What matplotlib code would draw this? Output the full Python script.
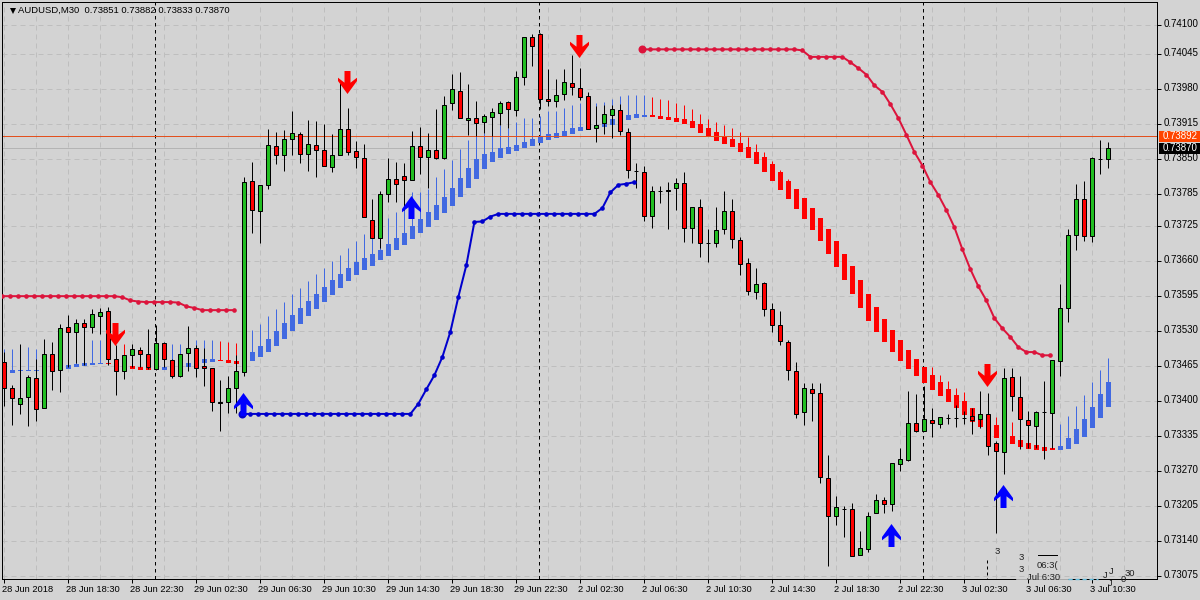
import numpy as np
import matplotlib
matplotlib.use('Agg')
import matplotlib.pyplot as plt
from matplotlib.patches import Rectangle
from matplotlib.path import Path
from matplotlib.transforms import ScaledTranslation

# all prices in points (1e-5)
body_top = [73472, 73424, 73405, 73444, 73442, 73488, 73487, 73535, 73537, 73545,
            73545, 73561, 73565, 73567, 73478, 73485, 73496, 73494, 73487, 73507,
            73507, 73476, 73487, 73498, 73498, 73465, 73461, 73399, 73424, 73455,
            73808, 73809, 73801, 73876, 73874, 73887, 73898, 73896, 73878, 73876,
            73866, 73857, 73906, 73906, 73865, 73852, 73736, 73785, 73812, 73812,
            73818, 73874, 73874, 73866, 73866, 73950, 73980, 73976, 73926, 73926,
            73930, 73937, 73954, 73956, 74002, 74077, 74077, 74082, 73961, 73969,
            73993, 73991, 73982, 73967, 73913, 73933, 73943, 73941, 73900, 73827,
            73825, 73790, 73790, 73793, 73805, 73805, 73760, 73760, 73693, 73718,
            73753, 73753, 73699, 73656, 73617, 73619, 73571, 73541, 73509, 73455,
            73424, 73422, 73414, 73256, 73202, 73199, 73199, 73126, 73187, 73215,
            73215, 73284, 73292, 73359, 73360, 73366, 73364, 73370, 73369, 73369,
            73369, 73372, 73375, 73375, 73322, 73442, 73444, 73407, 73364, 73379,
            73380, 73476, 73573, 73708, 73775, 73775, 73852, 73850, 73870]
body_bot = [73424, 73405, 73395, 73407, 73385, 73387, 73455, 73458, 73528, 73529,
            73538, 73538, 73559, 73478, 73455, 73455, 73485, 73487, 73464, 73459,
            73478, 73446, 73447, 73489, 73461, 73461, 73399, 73397, 73399, 73424,
            73454, 73755, 73753, 73801, 73857, 73857, 73887, 73859, 73859, 73866,
            73837, 73835, 73857, 73863, 73853, 73742, 73703, 73703, 73785, 73803,
            73811, 73811, 73853, 73853, 73852, 73852, 73954, 73926, 73922, 73917,
            73919, 73928, 73935, 73943, 73941, 74002, 74060, 73961, 73958, 73958,
            73971, 73984, 73965, 73906, 73907, 73917, 73932, 73902, 73829, 73827,
            73744, 73744, 73790, 73791, 73796, 73721, 73721, 73693, 73693, 73693,
            73719, 73701, 73654, 73604, 73602, 73571, 73541, 73511, 73457, 73375,
            73379, 73414, 73258, 73187, 73187, 73199, 73111, 73113, 73124, 73191,
            73208, 73208, 73282, 73290, 73344, 73344, 73359, 73357, 73369, 73369,
            73369, 73364, 73366, 73316, 73307, 73305, 73409, 73366, 73355, 73353,
            73380, 73377, 73475, 73573, 73708, 73706, 73706, 73850, 73851]
highs = [73492, 73430, 73506, 73448, 73478, 73515, 73510, 73543, 73560, 73552,
         73552, 73571, 73573, 73574, 73504, 73486, 73506, 73501, 73534, 73541,
         73510, 73478, 73488, 73540, 73504, 73499, 73461, 73439, 73447, 73486,
         73817, 73844, 73801, 73906, 73900, 73904, 73940, 73900, 73922, 73920,
         73915, 73896, 73995, 73945, 73883, 73878, 73775, 73790, 73852, 73844,
         73842, 73902, 73909, 73898, 73943, 73967, 74008, 74012, 73989, 73958,
         73933, 73945, 73958, 73958, 74014, 74077, 74082, 74084, 74017, 73998,
         74017, 74043, 74019, 73974, 73948, 73951, 73951, 73953, 73907, 73842,
         73837, 73799, 73799, 73807, 73814, 73825, 73760, 73775, 73720, 73761,
         73790, 73775, 73705, 73666, 73647, 73621, 73582, 73567, 73513, 73472,
         73433, 73433, 73433, 73299, 73223, 73204, 73210, 73158, 73193, 73227,
         73221, 73284, 73312, 73419, 73413, 73428, 73387, 73370, 73376, 73393,
         73382, 73387, 73419, 73414, 73325, 73461, 73461, 73446, 73381, 73381,
         73437, 73476, 73617, 73719, 73803, 73809, 73853, 73886, 73882]
lows = [73391, 73355, 73376, 73354, 73362, 73387, 73421, 73416, 73463, 73471,
        73467, 73527, 73525, 73467, 73411, 73441, 73463, 73463, 73459, 73458,
        73463, 73442, 73445, 73455, 73445, 73428, 73382, 73345, 73378, 73377,
        73447, 73713, 73693, 73794, 73840, 73827, 73858, 73842, 73827, 73817,
        73837, 73825, 73857, 73857, 73834, 73742, 73703, 73684, 73770, 73770,
        73755, 73811, 73823, 73796, 73850, 73850, 73941, 73926, 73894, 73892,
        73898, 73892, 73913, 73907, 73930, 73988, 74023, 73943, 73949, 73946,
        73959, 73969, 73960, 73906, 73882, 73897, 73890, 73895, 73815, 73797,
        73734, 73722, 73769, 73719, 73755, 73696, 73694, 73668, 73659, 73687,
        73711, 73685, 73634, 73597, 73590, 73558, 73529, 73504, 73439, 73369,
        73355, 73363, 73248, 73094, 73169, 73148, 73111, 73113, 73120, 73191,
        73192, 73195, 73270, 73288, 73342, 73344, 73334, 73350, 73357, 73352,
        73357, 73339, 73349, 73300, 73155, 73264, 73382, 73310, 73312, 73312,
        73293, 73313, 73447, 73547, 73680, 73698, 73695, 73822, 73833]
# R = down candle, G = up candle, D = doji
candle_dir = ("RRGGRGRGRG" "RGGRRGGRRG" "RRGGRRRDGG" "GRGGRGGRGR" "RGGRRRRGGR"
              "RGRGRGGRGR" "GGGRGGRRRG" "GRRRGGGRRD" "RGDDGRGRDG" "GRRRGRRRRR"
              "GRRRGDRGGG" "RGGGRGRGDD" "DRGRRGRRRG" "DGGGGRGDG")

# smoothed heiken ashi style bars behind the candles
ha_top = [73458, 73458, 73458, 73457, 73457, 73458, 73460, 73463, 73467, 73469,
          73471, 73471, 73471, 73471, 73469, 73467, 73465, 73463, 73461, 73463,
          73463, 73467, 73469, 73471, 73476, 73478, 73478, 73476, 73476, 73475,
          73484, 73491, 73502, 73515, 73530, 73545, 73560, 73573, 73586, 73599,
          73612, 73625, 73636, 73647, 73659, 73666, 73674, 73681, 73692, 73703,
          73713, 73726, 73739, 73752, 73765, 73780, 73796, 73815, 73834, 73850,
          73860, 73863, 73871, 73873, 73876, 73882, 73888, 73893, 73897, 73899,
          73902, 73908, 73910, 73912, 73914, 73917, 73925, 73928, 73932, 73934,
          73932, 73932, 73930, 73928, 73927, 73925, 73921, 73915, 73908, 73900,
          73893, 73888, 73880, 73873, 73863, 73854, 73841, 73826, 73809, 73794,
          73778, 73759, 73740, 73720, 73698, 73674, 73651, 73625, 73599, 73575,
          73553, 73532, 73514, 73495, 73478, 73463, 73448, 73435, 73422, 73411,
          73400, 73387, 73376, 73365, 73356, 73346, 73335, 73328, 73322, 73318,
          73315, 73313, 73316, 73331, 73348, 73367, 73389, 73413, 73435]
ha_bot = [73452, 73453, 73456, 73455, 73455, 73454, 73454, 73458, 73460, 73464,
          73466, 73467, 73468, 73468, 73465, 73463, 73460, 73458, 73458, 73458,
          73458, 73461, 73463, 73463, 73469, 73471, 73473, 73475, 73471, 73469,
          73465, 73475, 73482, 73491, 73502, 73515, 73530, 73543, 73558, 73571,
          73584, 73597, 73610, 73623, 73634, 73644, 73651, 73662, 73670, 73681,
          73690, 73701, 73713, 73724, 73737, 73750, 73763, 73780, 73796, 73813,
          73832, 73845, 73852, 73860, 73865, 73871, 73874, 73880, 73886, 73889,
          73893, 73897, 73902, 73904, 73908, 73910, 73914, 73919, 73923, 73927,
          73928, 73928, 73925, 73923, 73919, 73915, 73908, 73899, 73891, 73884,
          73878, 73873, 73863, 73852, 73841, 73826, 73809, 73793, 73776, 73757,
          73739, 73718, 73698, 73674, 73649, 73625, 73599, 73573, 73549, 73529,
          73510, 73491, 73475, 73460, 73447, 73434, 73421, 73409, 73398, 73387,
          73374, 73361, 73352, 73343, 73331, 73326, 73320, 73315, 73311, 73309,
          73307, 73309, 73309, 73311, 73320, 73333, 73350, 73369, 73389]
ha_high = [73497, 73497, 73499, 73501, 73497, 73480, 73476, 73495, 73476, 73496,
           73502, 73514, 73514, 73495, 73502, 73506, 73473, 73476, 73486, 73495,
           73473, 73506, 73506, 73504, 73514, 73514, 73514, 73512, 73510, 73508,
           73517, 73532, 73543, 73558, 73571, 73584, 73599, 73610, 73623, 73636,
           73647, 73660, 73672, 73685, 73698, 73711, 73718, 73727, 73740, 73752,
           73770, 73789, 73789, 73794, 73817, 73832, 73848, 73869, 73886, 73895,
           73899, 73895, 73914, 73908, 73919, 73927, 73927, 73930, 73940, 73940,
           73945, 73951, 73954, 73956, 73954, 73956, 73962, 73967, 73969, 73969,
           73969, 73966, 73962, 73960, 73954, 73951, 73943, 73934, 73925, 73919,
           73914, 73908, 73900, 73891, 73878, 73863, 73846, 73830, 73813, 73794,
           73778, 73759, 73740, 73720, 73698, 73674, 73651, 73625, 73599, 73575,
           73553, 73532, 73514, 73495, 73478, 73463, 73463, 73448, 73437, 73424,
           73417, 73387, 73380, 73387, 73370, 73369, 73361, 73350, 73343, 73330,
           73328, 73333, 73357, 73372, 73391, 73411, 73435, 73458, 73480]
ha_dir = ("BBBBBBBBBB" "BBBRRRRRRB" "BBBBBBBRRR" "BBBBBBBBBB" "BBBBBBBBBB"
          "BBBBBBBBBB" "BBBBBBBBBB" "BBBBBBBBBB" "BRRRRRRRRR" "RRRRRRRRRR"
          "RRRRRRRRRR" "RRRRRRRRRR" "RRRRRRRRRR" "RRBBBBBBB")

# dotted stop lines, each with its first bar
red_start_a = 0
red_line_a = [73595, 73595, 73595, 73595, 73595, 73595, 73595, 73595, 73595, 73595,
              73595, 73595, 73595, 73595, 73595, 73593, 73587, 73585, 73584, 73584,
              73584, 73584, 73583, 73576, 73573, 73569, 73569, 73569, 73569, 73569]
blue_start = 30
blue_line = [73376, 73376, 73376, 73376, 73376, 73376, 73376, 73376, 73376, 73376,
             73376, 73376, 73376, 73376, 73376, 73376, 73376, 73376, 73376, 73376,
             73376, 73376, 73395, 73422, 73448, 73482, 73529, 73594, 73653, 73733,
             73734, 73743, 73748, 73748, 73748, 73748, 73748, 73748, 73748, 73748,
             73748, 73748, 73748, 73748, 73748, 73759, 73788, 73802, 73804, 73807]
red_start_b = 80
red_line_b = [74054, 74054, 74054, 74054, 74054, 74054, 74054, 74054, 74054, 74054,
              74054, 74054, 74054, 74054, 74054, 74054, 74054, 74054, 74054, 74054,
              74052, 74040, 74040, 74040, 74040, 74040, 74030, 74019, 74007, 73987,
              73975, 73952, 73926, 73895, 73863, 73838, 73807, 73783, 73755, 73723,
              73682, 73645, 73613, 73587, 73554, 73535, 73519, 73500, 73491, 73491,
              73485, 73485]

down_bars = [14, 43, 72, 123]
down_prices = [73524, 73994, 74061, 73448]
up_bars = [30, 51, 111, 125]
up_prices = [73395, 73761, 73151, 73224]

price_ticks = ['0.74100', '0.74045', '0.73980', '0.73915', '0.73850', '0.73785',
               '0.73725', '0.73660', '0.73595', '0.73530', '0.73465', '0.73400',
               '0.73335', '0.73270', '0.73205', '0.73140', '0.73075']
time_labels = ['28 Jun 2018', '28 Jun 18:30', '28 Jun 22:30', '29 Jun 02:30', '29 Jun 06:30',
               '29 Jun 10:30', '29 Jun 14:30', '29 Jun 18:30', '29 Jun 22:30', '2 Jul 02:30',
               '2 Jul 06:30', '2 Jul 10:30', '2 Jul 14:30', '2 Jul 18:30', '2 Jul 22:30',
               '3 Jul 02:30', '3 Jul 06:30', '3 Jul 10:30']
day_bars = [19, 67, 115]
ask_price = 0.73892
bid_price = 0.73870

BG = '#D3D3D3'
GRID = '#BEBEBE'
GREEN = '#22BE22'
RED = '#FF0000'
ROYAL = '#4169E1'
CRIMSON = '#DC143C'
NAVY = '#0000CD'
FONT = 'Liberation Sans'
PX = 0.72  # one pixel in points at dpi 100

plt.rcParams['font.family'] = FONT
fig = plt.figure(figsize=(12, 6), dpi=100, facecolor=BG)
ax = fig.add_axes([2 / 1200, 1 - 579 / 600, 1155 / 1200, 577.5 / 600], facecolor=BG)

top = np.array(body_top) / 1e5
bot = np.array(body_bot) / 1e5
hi = np.array(highs) / 1e5
lo = np.array(lows) / 1e5
bars = np.arange(len(top))

# grid, separators and the bid line go under everything
ax.set_xticks(np.arange(0, 139, 8))
ax.set_xticks(np.arange(4, 144, 8), minor=True)
ax.set_yticks([float(t) for t in price_ticks])
ax.set_yticklabels(price_ticks)
ax.yaxis.tick_right()
ax.grid(True, which='both', color=GRID, lw=PX, ls=(0, (5, 4)), zorder=1)
ax.set_axisbelow(True)
for d in day_bars:
    ax.axvline(d - 0.12, color='black', lw=PX, ls=(0, (3.5, 3.5)), zorder=1.2)
ax.axhline(bid_price, color='#B4B4B4', lw=PX, zorder=1.5)

# indicator bars
ha_top_p = np.array(ha_top) / 1e5
ha_bot_p = np.array(ha_bot) / 1e5
ha_hi_p = np.array(ha_high) / 1e5
ha_cols = [ROYAL if c == 'B' else RED for c in ha_dir]
ax.vlines(bars, ha_top_p, ha_hi_p, colors=ha_cols, lw=PX, zorder=2)
ax.bar(bars, ha_top_p - ha_bot_p, bottom=ha_bot_p, width=5 / 8, color=ha_cols, lw=0, zorder=2)

ax.axhline(ask_price, color='#E2501E', lw=PX, zorder=2.5)

# candles
ax.vlines(bars, lo, hi, colors='black', lw=PX, zorder=3)
body_cols = [{'R': RED, 'G': GREEN, 'D': 'black'}[c] for c in candle_dir]
ax.bar(bars, top - bot, bottom=bot, width=0.5, color=body_cols, edgecolor='black',
       lw=PX, zorder=3.1)

# stop lines drawn a little left of the candle centre like the terminal does
for start, vals, col, first in [(red_start_a, red_line_a, CRIMSON, False),
                                (blue_start, blue_line, NAVY, True),
                                (red_start_b, red_line_b, CRIMSON, True)]:
    xs = np.arange(start, start + len(vals)) - 0.2
    ys = np.array(vals) / 1e5
    ax.plot(xs, ys, color=col, lw=2 * PX, marker='o', ms=4.6 * PX, mew=0, zorder=4)
    if first:
        ax.plot(xs[0], ys[0], color=col, marker='o', ms=8 * PX, mew=0, zorder=4)

# signal arrows
verts = np.array([(-3, 11.5), (3, 11.5), (3, -0.2), (9.5, 4.8), (9.5, 1.5), (0, -11.5),
                  (-9.5, 1.5), (-9.5, 4.8), (-3, -0.2), (-3, 11.5)])
codes = [Path.MOVETO] + [Path.LINETO] * 8 + [Path.CLOSEPOLY]
down_marker = Path(verts, codes)
up_marker = Path(verts * [1, -1], codes)
ax.plot(np.array(down_bars) - 0.1, np.array(down_prices) / 1e5, ls='none', marker=down_marker,
        ms=23 * PX, mew=0, color=RED, zorder=5)
ax.plot(np.array(up_bars) - 0.1, np.array(up_prices) / 1e5, ls='none', marker=up_marker,
        ms=23 * PX, mew=0, color='#0000FF', zorder=5)

ax.set_xlim(-0.25, 144.125)
ax.set_ylim(0.73069, 0.74143)

for s in ax.spines.values():
    s.set_linewidth(PX)
ax.tick_params(axis='y', which='major', right=True, length=4 * PX, width=PX, pad=2.2, labelsize=7.0)
ax.tick_params(axis='x', which='major', length=4 * PX, width=PX, pad=1.6, labelsize=6.7)
ax.tick_params(axis='x', which='minor', length=0)
ax.set_xticklabels(time_labels, ha='left')
shift = ScaledTranslation(-2 / 100, 0, fig.dpi_scale_trans)
for lab in ax.get_xticklabels():
    lab.set_transform(lab.get_transform() + shift)
lift = ScaledTranslation(0, 2 / 100, fig.dpi_scale_trans)
for lab in ax.get_yticklabels():
    lab.set_transform(lab.get_transform() + lift)

# price flags on the right edge
for price, col, txt in [(ask_price, '#FF4500', '0.73892'), (bid_price, 'black', '0.73870')]:
    ax.add_patch(Rectangle((1 + 2 / 1155, price - 5.7 * 1.86e-5), 41 / 1155, 11.4 * 1.86e-5,
                           transform=ax.get_yaxis_transform(), fc=col, ec='none', clip_on=False, zorder=6))
    ax.annotate(txt, xy=(1, price), xycoords=('axes fraction', 'data'), xytext=(6 * PX, 0),
                textcoords='offset points', va='center', ha='left', color='white', fontsize=7.0,
                annotation_clip=False, zorder=7)

# header
ax.plot([10.5 / 1155], [1 - 9.5 / 577.5], transform=ax.transAxes, marker='v', ms=6.5 * PX, color='black',
        mew=0, ls='none', zorder=6, clip_on=False)
ohlc = [body_bot[-1], highs[-1], lows[-1], body_top[-1]]
head = 'AUDUSD,M30  ' + ' '.join(f'{v / 1e5:.5f}' for v in ohlc)
fig.text(18 / 1200, 1 - 10.5 / 600, head, fontsize=6.8, va='center', ha='left', color='black')

# garbled watermark remains in the lower right corner
fig.add_artist(plt.Line2D([1017 / 1200, 1068 / 1200], [1 - 579 / 600] * 2, color=BG, lw=1.6 * PX, zorder=7))
fig.add_artist(plt.Line2D([1068 / 1200, 1098 / 1200], [1 - 579 / 600] * 2, color='#62BDDD', lw=1.4 * PX,
                          ls=(0, (3, 2)), zorder=8))
fig.add_artist(plt.Line2D([1038 / 1200, 1057 / 1200], [1 - 554.5 / 600] * 2, color='black', lw=PX, zorder=8))
fig.add_artist(plt.Line2D([987 / 1200, 987 / 1200], [1 - 560 / 600, 1 - 579 / 600], color='black', lw=PX,
                          ls=(0, (3, 3)), zorder=8))
for px, py, s in [(997, 551, '3'), (1021, 558, '3'), (1021, 569, '3'), (1047, 565, '06:3('),
                  (1044, 577, 'Jul 6:30'), (1105, 576, 'J'), (1111, 571, 'J'), (1110, 583, 'J'),
                  (1123, 580, '0'), (1130, 573, '30')]:
    fig.text(px / 1200, 1 - py / 600, s, fontsize=6.8, va='center', ha='center', color='#222222', zorder=8)

fig.savefig('out.png', dpi=100, facecolor=BG)
